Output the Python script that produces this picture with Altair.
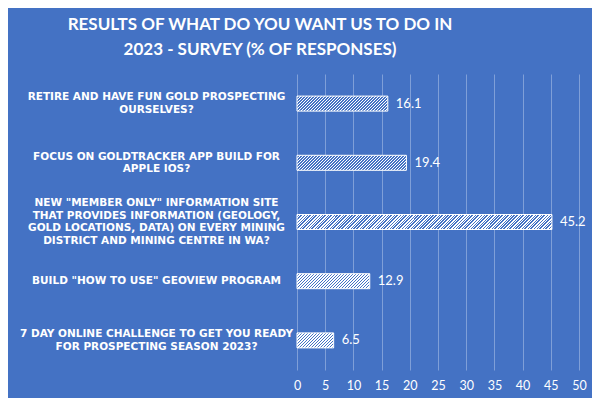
import altair as alt

# ---- data ----
labels = [
    ["RETIRE AND HAVE FUN GOLD PROSPECTING", "OURSELVES?"],
    ["FOCUS ON GOLDTRACKER APP BUILD FOR", "APPLE IOS?"],
    ['NEW "MEMBER ONLY" INFORMATION SITE', "THAT PROVIDES INFORMATION (GEOLOGY,",
     "GOLD LOCATIONS, DATA) ON EVERY MINING", "DISTRICT AND MINING CENTRE IN WA?"],
    ['BUILD "HOW TO USE" GEOVIEW PROGRAM'],
    ["7 DAY ONLINE CHALLENGE TO GET YOU READY", "FOR PROSPECTING SEASON 2023?"],
]
values = [16.1, 19.4, 45.2, 12.9, 6.5]
x_ticks = list(range(0, 51, 5))
title_lines = ["RESULTS OF WHAT DO YOU WANT US TO DO IN", "2023 - SURVEY (% OF RESPONSES)"]

# ---- style ----
BG = "#4472C4"
GRID = "#7f9fd8"
PLOT_W, PLOT_H = 282, 296
X_MAX = 50
BAR_H = 15
STRIPE = 3.0
WHITE_FRAC = 0.5
LINE_H = 12.5


def hatch(v):
    """Diagonal '/' hatch as a striped linear gradient in bbox units."""
    w = v * PLOT_W / X_MAX
    h = BAR_H
    s = w + h
    d = w * w + h * h
    stops = []
    k = 0
    while k * STRIPE < s:
        a = round(k * STRIPE / s, 5)
        b = round(min((k + WHITE_FRAC) * STRIPE / s, 1), 5)
        c = round(min((k + 1) * STRIPE / s, 1), 5)
        stops += [
            {"offset": a, "color": "#ffffff"},
            {"offset": b, "color": "#ffffff"},
            {"offset": b, "color": BG},
            {"offset": c, "color": BG},
        ]
        k += 1
    return {"gradient": "linear", "x1": 0, "y1": 0,
            "x2": round(w * s / d, 6), "y2": round(h * s / d, 6), "stops": stops}


rows = [{"label": "\n".join(l), "value": v, "hatch": hatch(v)} for l, v in zip(labels, values)]
data = alt.Data(values=rows)

n_lines = "length(split(datum.value, '\\n'))"
label_offset = {
    "condition": [
        {"test": f"{n_lines} == 4", "value": -1.5 * LINE_H},
        {"test": f"{n_lines} == 3", "value": -1.0 * LINE_H},
        {"test": f"{n_lines} == 2", "value": -0.5 * LINE_H},
    ],
    "value": 0,
}

y_enc = alt.Y(
    "label:N", sort=None, title=None,
    scale=alt.Scale(paddingInner=0, paddingOuter=0),
    axis=alt.Axis(
        labelExpr="split(datum.value, '\\n')",
        labelAlign="center", labelBaseline="middle", labelPadding=141,
        labelOffset=label_offset,
        labelLineHeight=LINE_H, labelLimit=500,
        labelFont="DejaVu Sans", labelFontSize=10.5, labelFontWeight="bold",
        labelColor="white", ticks=False, tickSize=0, domain=False, grid=False,
    ),
)
x_enc = alt.X(
    "value:Q", title=None,
    scale=alt.Scale(domain=[0, X_MAX], nice=False),
    axis=alt.Axis(
        values=x_ticks, grid=True, gridColor=GRID, gridWidth=1,
        domain=False, ticks=False, labelPadding=9, labelOverlap=False,
        labelBound=False, labelFlush=False,
        labelFont="Lato", labelFontSize=12.5, labelColor="white",
    ),
)

bars = alt.Chart(data).mark_bar(size=BAR_H, stroke="white", strokeWidth=1).encode(
    x=x_enc, y=y_enc,
    fill=alt.Fill("hatch:N", scale=None, legend=None),
)
text = alt.Chart(data).mark_text(
    align="left", baseline="middle", dx=8, color="white", font="Lato", fontSize=13
).encode(
    x=x_enc, y=y_enc,
    text=alt.Text("value:Q", format=".1f"),
)

chart = alt.layer(bars, text).properties(
    width=PLOT_W, height=PLOT_H,
    title=alt.TitleParams(
        text=title_lines, font="Lato", fontSize=17, fontWeight="bold", color="white",
        anchor="middle", dx=-178, lineHeight=25, offset=15,
    ),
    autosize=alt.AutoSizeParams(type="none"),
    padding={"left": 289, "top": 66, "right": 13, "bottom": 28},
    background=BG,
).configure_view(stroke=None)

chart.save("out.html", embed_options={"renderer": "svg", "actions": False})
